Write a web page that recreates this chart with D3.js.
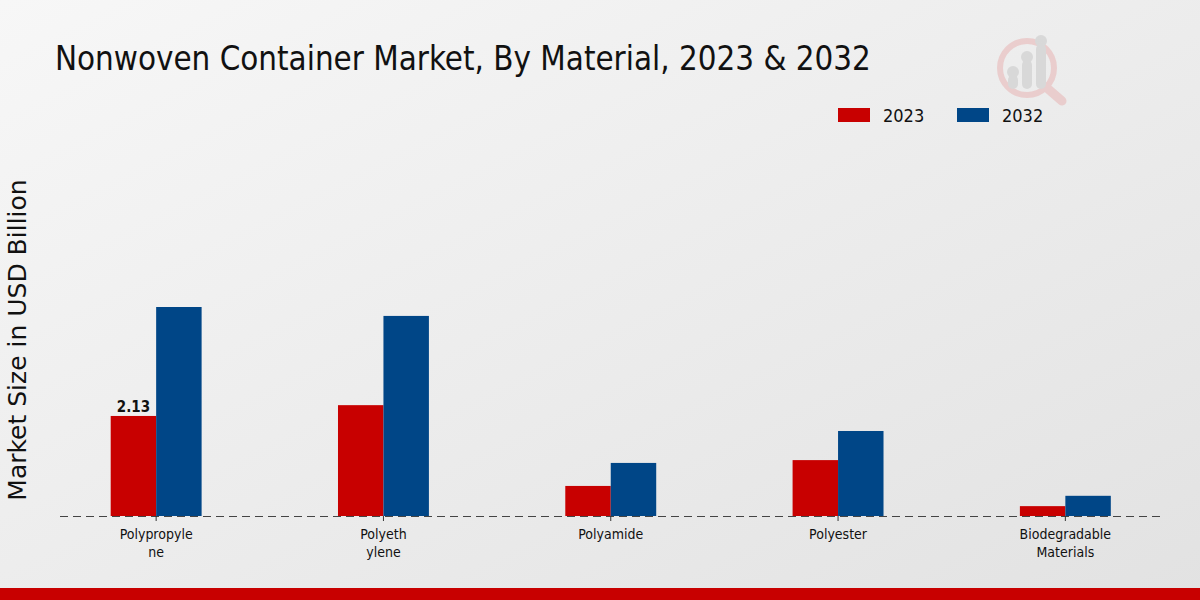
<!DOCTYPE html>
<html><head><meta charset="utf-8">
<script src="https://cdn.jsdelivr.net/npm/d3@7"></script>
<style>body{margin:0;padding:0;overflow:hidden}svg{display:block}</style>
</head><body>
<svg id="c" width="1200" height="600"></svg>
<script>
const categories = ["Polypropylene", "Polyethylene", "Polyamide", "Polyester", "Biodegradable Materials"];
const tickLabels = [["Polypropyle","ne"],["Polyeth","ylene"],["Polyamide"],["Polyester"],["Biodegradable","Materials"]];
const series = ["2023", "2032"];
const values2023 = [2.13, 2.36, 0.64, 1.19, 0.21];
const values2032 = [4.45, 4.26, 1.13, 1.81, 0.43];
const colors = ["#c80000", "#004687"];

const svg = d3.select("#c");
const defs = svg.append("defs");
const g = defs.append("linearGradient").attr("id","bg").attr("x1","0").attr("y1","0").attr("x2","1").attr("y2","1");
g.append("stop").attr("offset","0").attr("stop-color","#f7f7f7");
g.append("stop").attr("offset","1").attr("stop-color","#e2e2e2");
svg.append("rect").attr("width",1200).attr("height",600).attr("fill","url(#bg)");

// logo (faint)
const logo = svg.append("g").attr("opacity",0.55);
logo.append("circle").attr("cx",1027).attr("cy",68).attr("r",27).attr("fill","none").attr("stroke","#e8b4b4").attr("stroke-width",6);
logo.append("line").attr("x1",1047).attr("y1",88).attr("x2",1062).attr("y2",101).attr("stroke","#e8b4b4").attr("stroke-width",9).attr("stroke-linecap","round");
[[1013,75,14],[1027,60,29],[1041,44,45]].forEach(([x,y,h])=>{
  logo.append("rect").attr("x",x-5).attr("y",y).attr("width",10).attr("height",h).attr("rx",5).attr("fill","#c8c8c8");
  logo.append("circle").attr("cx",x).attr("cy",y-3).attr("r",6).attr("fill","#c8c8c8");
});

// title
svg.append("text").attr("x",55).attr("y",70).attr("font-family","DejaVu Sans Condensed, DejaVu Sans").attr("font-size",32.8)
  .attr("fill","#111").text("Nonwoven Container Market, By Material, 2023 & 2032");

// legend
series.forEach((s,i)=>{
  const lx = 838 + i*119;
  svg.append("rect").attr("x",lx).attr("y",108).attr("width",32).attr("height",14).attr("fill",colors[i]);
  svg.append("text").attr("x",lx+45).attr("y",122).attr("font-family","DejaVu Sans Condensed, DejaVu Sans").attr("font-size",18).attr("fill","#111").text(s);
});

// y label
svg.append("text").attr("transform","translate(26,340) rotate(-90)").attr("text-anchor","middle")
  .attr("font-family","DejaVu Sans").attr("font-size",25).attr("fill","#111").text("Market Size in USD Billion");

const x = d3.scaleBand().domain(categories).range([42.5,1179]).padding(0);
const y = d3.scaleLinear().domain([0,4.45]).range([516,307]);
const bw = x.bandwidth()*0.2;

const data = [values2023, values2032];
data.forEach((vals,si)=>{
  svg.append("g").selectAll("rect").data(categories).join("rect")
    .attr("x",(c)=>x(c)+x.bandwidth()/2 + (si-1)*bw)
    .attr("y",(c,i)=>y(vals[i]))
    .attr("width",bw).attr("height",(c,i)=>y(0)-y(vals[i]))
    .attr("fill",colors[si]);
});

// data label
svg.append("text").attr("x",x(categories[0])+x.bandwidth()/2-bw/2).attr("y",y(values2023[0])-4)
  .attr("text-anchor","middle").attr("font-family","DejaVu Sans Condensed, DejaVu Sans").attr("font-weight","bold").attr("font-size",15).attr("fill","#111").text(values2023[0]);

// baseline
svg.append("line").attr("x1",60).attr("x2",1160).attr("y1",516.5).attr("y2",516.5).attr("stroke","#444").attr("stroke-width",1.2).attr("stroke-dasharray","8,5");

// ticks
categories.forEach((c,i)=>{
  const cx = x(c)+x.bandwidth()/2;
  svg.append("line").attr("x1",cx).attr("x2",cx).attr("y1",516).attr("y2",521).attr("stroke","#333");
  const t = svg.append("text").attr("x",cx).attr("y",539).attr("text-anchor","middle")
    .attr("font-family","DejaVu Sans Condensed, DejaVu Sans").attr("font-size",14).attr("fill","#111");
  tickLabels[i].forEach((l,j)=>t.append("tspan").attr("x",cx).attr("dy",j?18:0).text(l));
});

// bottom band
svg.append("rect").attr("x",0).attr("y",588).attr("width",1200).attr("height",12).attr("fill","#c80000");
</script>
</body></html>
